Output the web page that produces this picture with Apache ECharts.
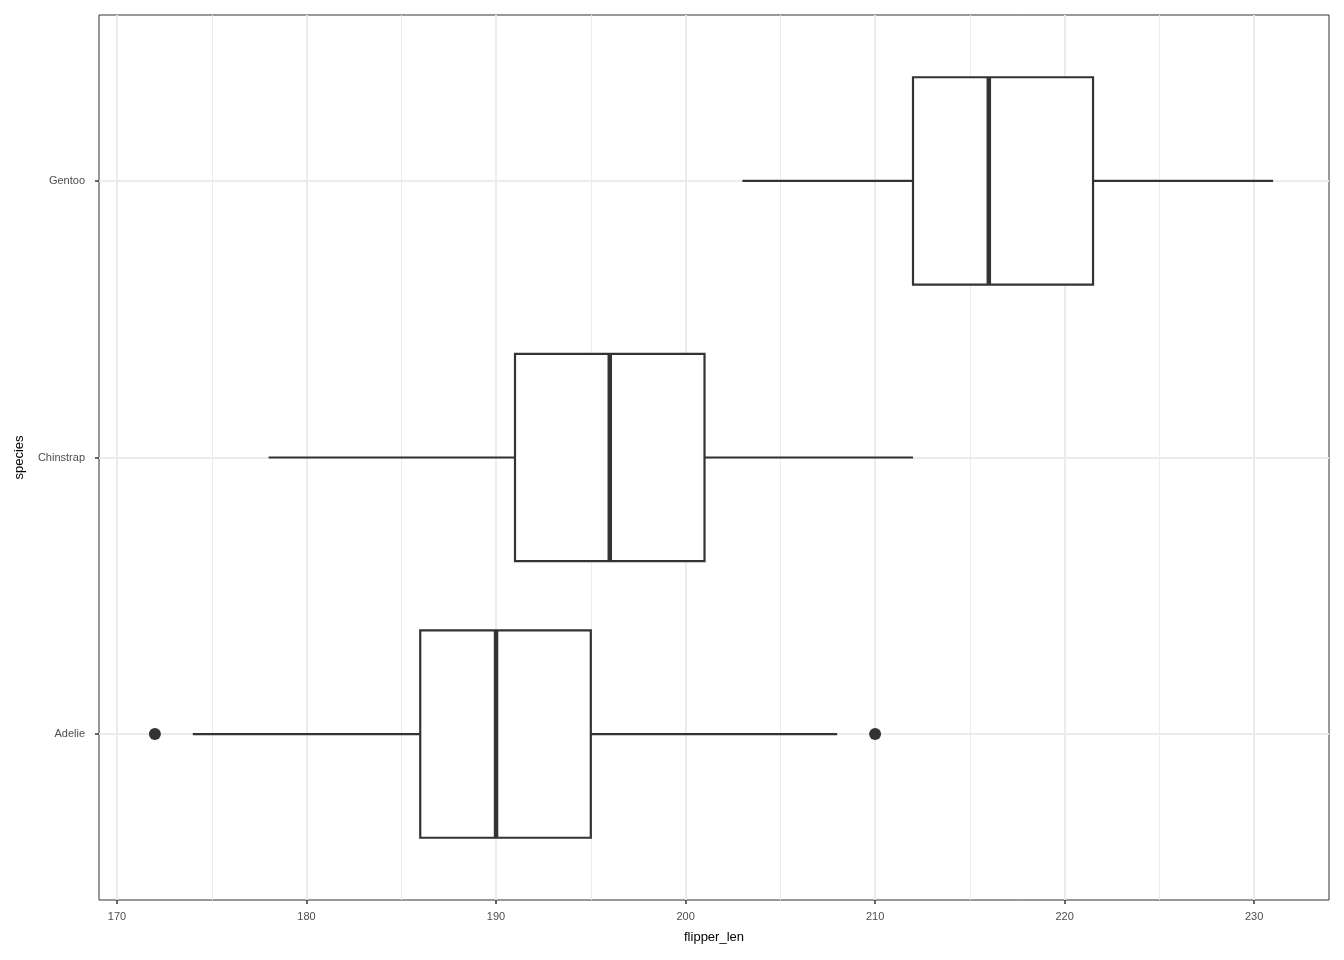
<!DOCTYPE html>
<html>
<head>
<meta charset="utf-8">
<title>flipper_len by species</title>
<script src="https://cdn.jsdelivr.net/npm/echarts@6/dist/echarts.min.js"></script>
<style>
  html, body { margin: 0; padding: 0; background: #fff; }
  #chart { width: 1344px; height: 960px; }
</style>
</head>
<body>
<div id="chart"></div>
<script>
// species on the y axis, positions 1..3
const species = ['Adelie', 'Chinstrap', 'Gentoo'];
// [min whisker, q1, median, q3, max whisker]
const boxStats = [
  [174, 186, 190, 195, 208],
  [178, 191, 196, 201, 212],
  [203, 212, 216, 221.5, 231]
];
// [flipper_len, species position]
const outliers = [[172, 1], [210, 1]];
const xTicks = [170, 180, 190, 200, 210, 220, 230];
const xMinor = [175, 185, 195, 205, 215, 225];

const boxData = boxStats.map((s, i) => [i + 1].concat(s));

const chart = echarts.init(document.getElementById('chart'));

const ink = '#333333';
const gridCol = '#ebebeb';

chart.setOption({
  animation: false,
  textStyle: { fontFamily: 'Liberation Sans, Arial, sans-serif' },
  grid: {
    left: 99, right: 15, top: 15, bottom: 60,
    show: true, borderColor: ink, borderWidth: 1, backgroundColor: 'transparent'
  },
  xAxis: {
    type: 'value',
    min: 169.05,
    max: 233.95,
    name: 'flipper_len',
    nameLocation: 'middle',
    nameGap: 31,
    nameTextStyle: { color: '#000', fontSize: 13 },
    axisLine: { show: false },
    axisTick: { show: true, customValues: xTicks, length: 4, lineStyle: { color: ink, width: 1.5 } },
    axisLabel: { customValues: xTicks, color: '#4d4d4d', fontSize: 11, margin: 11 },
    splitLine: { show: true, lineStyle: { color: gridCol, width: 2 } }
  },
  yAxis: {
    type: 'value',
    min: 0.4,
    max: 3.6,
    name: 'species',
    nameLocation: 'middle',
    nameGap: 73,
    nameRotate: 90,
    nameTextStyle: { color: '#000', fontSize: 13 },
    axisLine: { show: false },
    axisTick: { show: true, customValues: [1, 2, 3], length: 4, lineStyle: { color: ink, width: 1.5 } },
    axisLabel: {
      customValues: [1, 2, 3],
      color: '#4d4d4d', fontSize: 11, margin: 14,
      formatter: v => species[Math.round(v) - 1] || ''
    },
    splitLine: { show: true, lineStyle: { color: gridCol, width: 2 } }
  },
  series: [
    {
      // minor vertical grid lines, kept under the boxes
      type: 'line',
      name: 'minor',
      silent: true,
      z: 0,
      data: [],
      markLine: {
        silent: true,
        symbol: 'none',
        label: { show: false },
        lineStyle: { color: gridCol, width: 1, type: 'solid' },
        data: xMinor.map(v => ({ xAxis: v }))
      }
    },
    {
      type: 'custom',
      name: 'box',
      silent: true,
      z: 5,
      data: boxData,
      encode: { x: [1, 2, 3, 4, 5], y: 0 },
      renderItem: function (params, api) {
        const y = api.value(0);
        const lo = api.value(1), q1 = api.value(2), med = api.value(3), q3 = api.value(4), hi = api.value(5);
        const half = api.size([0, 0.375])[1];
        const pLo = api.coord([lo, y]);
        const pQ1 = api.coord([q1, y]);
        const pMed = api.coord([med, y]);
        const pQ3 = api.coord([q3, y]);
        const pHi = api.coord([hi, y]);
        const line = { stroke: ink, lineWidth: 2.2 };
        return {
          type: 'group',
          children: [
            { type: 'line', shape: { x1: pLo[0], y1: pLo[1], x2: pQ1[0], y2: pQ1[1] }, style: line },
            { type: 'line', shape: { x1: pQ3[0], y1: pQ3[1], x2: pHi[0], y2: pHi[1] }, style: line },
            {
              type: 'rect',
              shape: { x: pQ1[0], y: pQ1[1] - half, width: pQ3[0] - pQ1[0], height: 2 * half },
              style: { fill: '#fff', stroke: ink, lineWidth: 2.2 }
            },
            {
              type: 'line',
              shape: { x1: pMed[0], y1: pMed[1] - half, x2: pMed[0], y2: pMed[1] + half },
              style: { stroke: ink, lineWidth: 4.5 }
            }
          ]
        };
      }
    },
    {
      type: 'scatter',
      name: 'outliers',
      silent: true,
      z: 5,
      data: outliers,
      symbolSize: 12,
      itemStyle: { color: ink, opacity: 1 }
    }
  ]
});
</script>
</body>
</html>
